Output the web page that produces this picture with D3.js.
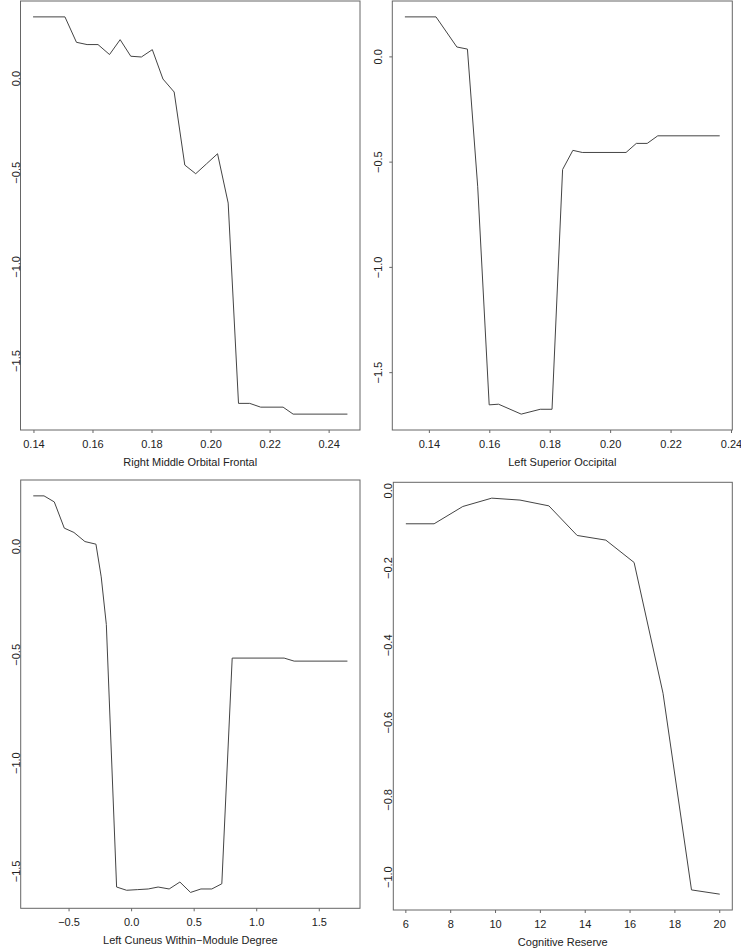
<!DOCTYPE html>
<html>
<head>
<meta charset="utf-8">
<script src="https://cdn.jsdelivr.net/npm/d3@7"></script>
<style>
  html, body { margin: 0; padding: 0; background: #fff; }
  svg { display: block; font-family: "Liberation Sans", Arial, Helvetica, sans-serif; }
</style>
</head>
<body>
<svg id="chart" width="741" height="950"></svg>
<script>
// ---- Data ----
const rmofX = [0.1397, 0.1505, 0.1544, 0.1580, 0.1617, 0.1656, 0.1692, 0.1728, 0.1764, 0.1801, 0.1837, 0.1875, 0.1911, 0.1948, 0.1985, 0.2022, 0.2058, 0.2093, 0.2131, 0.2168, 0.2244, 0.2278, 0.2462];
const rmofY = [0.328, 0.328, 0.193, 0.181, 0.181, 0.128, 0.207, 0.119, 0.115, 0.154, -0.002, -0.071, -0.459, -0.505, -0.452, -0.399, -0.661, -1.725, -1.725, -1.745, -1.745, -1.782, -1.782];

const lsoX = [0.1319, 0.1422, 0.1491, 0.1526, 0.1560, 0.1598, 0.1629, 0.1704, 0.1767, 0.1806, 0.1841, 0.1875, 0.1906, 0.2051, 0.2085, 0.2121, 0.2156, 0.2361];
const lsoY = [0.190, 0.190, 0.047, 0.037, -0.617, -1.653, -1.650, -1.697, -1.674, -1.674, -0.535, -0.444, -0.454, -0.454, -0.411, -0.411, -0.375, -0.375];

const lcwmdX = [-0.786, -0.700, -0.618, -0.538, -0.461, -0.373, -0.285, -0.243, -0.202, -0.120, -0.040, 0.049, 0.133, 0.212, 0.300, 0.386, 0.471, 0.554, 0.641, 0.721, 0.804, 1.219, 1.299, 1.725];
const lcwmdY = [0.234, 0.234, 0.206, 0.085, 0.065, 0.023, 0.011, -0.14, -0.36, -1.572, -1.587, -1.584, -1.581, -1.572, -1.581, -1.549, -1.597, -1.581, -1.581, -1.557, -0.515, -0.515, -0.529, -0.529];

const crX = [6, 7.26, 8.54, 9.83, 11.09, 12.38, 13.64, 14.92, 16.18, 17.47, 18.74, 20];
const crY = [-0.0854, -0.0854, -0.0406, -0.019, -0.024, -0.039, -0.1156, -0.1277, -0.1855, -0.524, -1.033, -1.044];

const xTicks1 = [0.14, 0.16, 0.18, 0.20, 0.22, 0.24];
const xTicks2 = [0.14, 0.16, 0.18, 0.20, 0.22, 0.24];
const xTicks3 = [-0.5, 0.0, 0.5, 1.0, 1.5];
const xTicks4 = [6, 8, 10, 12, 14, 16, 18, 20];
const yTicks1 = [-1.5, -1.0, -0.5, 0.0];
const yTicks2 = [-1.5, -1.0, -0.5, 0.0];
const yTicks3 = [-1.5, -1.0, -0.5, 0.0];
const yTicks4 = [-1.0, -0.8, -0.6, -0.4, -0.2, 0.0];

const titles = ["Right Middle Orbital Frontal", "Left Superior Occipital", "Left Cuneus Within\u2212Module Degree", "Cognitive Reserve"];

// ---- Layout ----
const panels = [
  { xs: rmofX, ys: rmofY, xt: xTicks1, yt: yTicks1, xf: ".2f", yf: ".1f", title: titles[0],
    box: { l: 20.5, r: 360, t: 1, b: 430 }, ylab: 20, yticks: false },
  { xs: lsoX, ys: lsoY, xt: xTicks2, yt: yTicks2, xf: ".2f", yf: ".1f", title: titles[1],
    box: { l: 392.3, r: 732.3, t: 1, b: 430 }, ylab: 382, yticks: true },
  { xs: lcwmdX, ys: lcwmdY, xt: xTicks3, yt: yTicks3, xf: ".1f", yf: ".1f", title: titles[2],
    box: { l: 20.7, r: 360, t: 480, b: 908.3 }, ylab: 20.5, yticks: false },
  { xs: crX, ys: crY, xt: xTicks4, yt: yTicks4, xf: "d", yf: ".1f", title: titles[3],
    box: { l: 393.3, r: 732.3, t: 482.3, b: 910 }, ylab: 392, yticks: false }
];

const svg = d3.select("#chart");
const fmtMinus = s => s.replace("-", "\u2212");

function padDomain(vals) {
  const [lo, hi] = d3.extent(vals);
  const p = (hi - lo) * 0.04;
  return [lo - p, hi + p];
}

panels.forEach(p => {
  const g = svg.append("g");
  const x = d3.scaleLinear().domain(padDomain(p.xs)).range([p.box.l, p.box.r]);
  const y = d3.scaleLinear().domain(padDomain(p.ys)).range([p.box.b, p.box.t]);

  // frame
  g.append("rect")
    .attr("x", p.box.l).attr("y", p.box.t)
    .attr("width", p.box.r - p.box.l).attr("height", p.box.b - p.box.t)
    .attr("fill", "none").attr("stroke", "#666").attr("stroke-width", 1);

  // x axis ticks and labels
  const xf = d3.format(p.xf);
  g.selectAll(".xt").data(p.xt).enter().append("line")
    .attr("x1", d => x(d)).attr("x2", d => x(d))
    .attr("y1", p.box.b).attr("y2", p.box.b + 3)
    .attr("stroke", "#666").attr("stroke-width", 1);
  g.selectAll(".xl").data(p.xt).enter().append("text")
    .attr("x", d => x(d)).attr("y", p.box.b + 14)
    .attr("text-anchor", "middle").attr("dominant-baseline", "central")
    .attr("font-size", 11).attr("fill", "#222")
    .text(d => fmtMinus(xf(d)));

  // y axis labels (rotated)
  const yf = d3.format(p.yf);
  if (p.yticks) {
    g.selectAll(".yt").data(p.yt).enter().append("line")
      .attr("x1", p.box.l).attr("x2", p.box.l - 3)
      .attr("y1", d => y(d)).attr("y2", d => y(d))
      .attr("stroke", "#666").attr("stroke-width", 1);
  }
  g.selectAll(".yl").data(p.yt).enter().append("text")
    .attr("x", p.ylab).attr("y", d => y(d))
    .attr("transform", d => `rotate(-90,${p.ylab},${y(d)})`)
    .attr("text-anchor", "middle")
    .attr("font-size", 11).attr("fill", "#222")
    .text(d => fmtMinus(yf(d)));

  // axis title
  g.append("text")
    .attr("x", (p.box.l + p.box.r) / 2).attr("y", p.box.b + 31.5)
    .attr("text-anchor", "middle").attr("dominant-baseline", "central")
    .attr("font-size", 11).attr("fill", "#222")
    .text(p.title);

  // line
  const pts = p.xs.map((v, i) => [v, p.ys[i]]);
  g.append("path")
    .attr("d", d3.line().x(d => x(d[0])).y(d => y(d[1]))(pts))
    .attr("fill", "none").attr("stroke", "#444").attr("stroke-width", 1);
});
</script>
</body>
</html>
